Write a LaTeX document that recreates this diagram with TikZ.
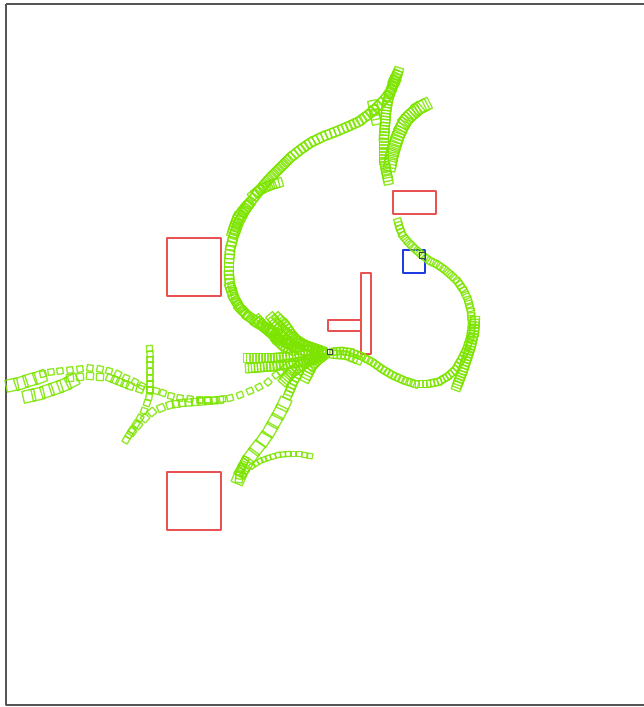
\documentclass[tikz,border=0pt]{standalone}
\definecolor{trajgreen}{RGB}{124,228,0}
\definecolor{obsred}{RGB}{232,82,82}
\definecolor{goalblue}{RGB}{30,60,225}
\definecolor{framegray}{RGB}{85,85,85}
\tikzset{
  sqline/.style={draw=trajgreen,line width=1pt,draw opacity=0.85},
  obstacle/.style={draw=obsred,line width=0.8pt},
  goal/.style={draw=goalblue,line width=0.9pt},
  marker/.style={draw=black!75,line width=0.7pt}
}
% squares along a polyline: #1 spacing, #2 half size, #3 list of x/y points
\newcommand\sqtrail[3]{%
  \foreach \qx/\qy [count=\k, remember=\qx as \ox (initially 0), remember=\qy as \oy (initially 0)] in {#3}{%
    \ifnum\k>1
      \pgfmathsetmacro\seglen{veclen(\qx-\ox,\qy-\oy)}%
      \pgfmathsetmacro\segang{atan2(\qy-\oy,\qx-\ox)}%
      \pgfmathtruncatemacro\nsq{max(1,round(\seglen/#1))}%
      \foreach \j in {1,...,\nsq}{%
        \pgfmathsetmacro\cx{\ox+(\qx-\ox)*\j/\nsq}%
        \pgfmathsetmacro\cy{\oy+(\qy-\oy)*\j/\nsq}%
        \draw[sqline,shift={(\cx,\cy)},rotate=-\segang] (-#2,-#2) rectangle (#2,#2);
      }%
    \fi
  }%
}
\begin{document}
\begin{tikzpicture}[x=0.75pt,y=-0.75pt,line join=round]
  \useasboundingbox (0,0) rectangle (643,707);
  \draw[framegray,line width=1.1pt] (6,4) -- (650,4);
  \draw[framegray,line width=1.1pt] (6,4) -- (6,705) -- (650,705);
  % obstacles and goal
  \draw[obstacle] (167,238) rectangle (221,296);
  \draw[obstacle] (167,472) rectangle (221,530);
  \draw[obstacle] (393,191) rectangle (436,214);
  \draw[obstacle] (361,273) rectangle (371,354);
  \draw[obstacle] (328,320) rectangle (361,331);
  \draw[goal] (403,250) rectangle (425,273);
  % loop to the top
  \sqtrail{4}{4.5}{300/350, 280/335, 262/325, 248/316, 240/308, 234/298, 230/287, 229/275, 229/263, 230/250, 233/238, 238/224, 244/212, 250/203, 256/195, 263/186, 270/178, 280/168, 290/158, 300/150, 310/143, 322/137, 335/132, 347/127, 358/122, 368/115, 377/107, 384/100, 390/92, 395/82, 398/72}
  \sqtrail{5}{3.5}{290/345, 270/332, 255/323, 243/312, 236/300, 232/287}
  \sqtrail{3}{4.5}{398/72, 394/80, 391/90, 388/100, 386/112, 385/124, 384/137, 384/150, 384/160, 386/170, 388/180}
  \sqtrail{3}{6}{427/104, 419/108, 412/114, 406/120, 402/127, 398/136, 395/145, 392/155, 390/165}
  \sqtrail{4}{4.5}{250/198, 257/192, 264/188, 271/185, 278/183}
  \sqtrail{3}{5}{232/235, 235/226, 238/218, 243/211, 248/205}
  \sqtrail{6}{4.5}{372/100, 374/110, 376/120}
  % loop to the goal
  \sqtrail{4}{3.5}{330/352, 340/351, 350/352, 361/356, 372/362, 382/369, 392/375, 403/380, 415/384, 427/384, 438/382, 447/377, 455/370, 461/360, 466/350, 470/338, 472/325, 471/312, 468/300, 464/291, 458/282, 452/276, 445/270, 438/265, 430/261, 422/255, 415/249, 409/243, 403/236, 400/229, 398/222}
  \sqtrail{4}{4}{330/354, 345/355, 358/360}
  \sqtrail{3}{4.5}{475/318, 474/332, 471/345, 467/358, 463/370, 460/378, 457/386}
  % left branches
  \sqtrail{7.5}{3}{300/358, 292/363, 285/368, 276/375, 268/382, 259/387, 250/391, 240/395, 230/398, 215/400, 200/400, 190/399, 180/398, 171/396, 163/393, 156/391, 150/390, 142/386, 135/382, 126/378, 118/374, 109/371, 100/369, 90/368, 80/369, 70/370, 60/371, 51/372, 43/374}
  \sqtrail{7}{3.5}{150/392, 140/389, 130/386, 120/382, 110/378, 100/377, 90/376, 80/377, 70/378}
  \sqtrail{10}{6}{48/374, 40/377, 30/380, 21/383, 12/385}
  \sqtrail{11}{6}{20/398, 29/396, 38/394, 47/391, 56/388, 64/385, 72/381}
  \sqtrail{6.5}{3}{149/343, 150/354, 150/365, 150/378, 150/390, 149/397, 147/403, 144/411, 140/418, 136/424, 132/430, 129/435, 126/440}
  \sqtrail{7}{3.5}{126/440, 132/432, 138/425, 145/418, 152/412, 161/408, 170/405, 182/403, 195/402, 208/401, 220/400}
  % lower branches
  \sqtrail{4}{4}{302/366, 298/374, 294/381, 291/388, 288/395}
  \sqtrail{12}{6}{288/395, 284/404, 280/412, 275/421, 270/430, 264/439, 257/448, 251/456, 246/464, 242/471, 239/478}
  \sqtrail{3}{3.5}{246/458, 243/465, 240/472, 239/479}
  \sqtrail{5.5}{2.5}{240/478, 246/471, 252/466, 260/461, 268/458, 278/455, 288/454, 299/454, 310/456}
  % fan at the start
  \sqtrail{3}{4.5}{325/352, 315/349, 305/345, 295/339, 285/332, 278/325, 272/318}
  \sqtrail{3}{4.5}{325/352, 312/354, 300/356, 288/357, 275/358, 261/358, 248/358}
  \sqtrail{3}{4.5}{325/353, 312/358, 300/362, 288/364, 275/366, 262/367, 250/368}
  \sqtrail{3}{5}{325/354, 318/359, 312/365, 309/371, 306/377}
  \sqtrail{3}{4.5}{325/352, 312/351, 300/350, 290/345, 280/340, 272/334, 265/328, 258/320}
  \sqtrail{3}{4.5}{320/350, 310/347, 300/344, 292/335, 285/325, 278/318}
  \sqtrail{3}{5}{322/355, 310/360, 300/366, 292/372, 285/380}
  \sqtrail{3}{4.5}{270/330, 275/338, 282/345, 292/350}
  % start and end markers
  \draw[marker] (327.5,349.5) rectangle (332.5,354.5);
  \draw[marker] (419,252) rectangle (425,258);
\end{tikzpicture}
\end{document}
